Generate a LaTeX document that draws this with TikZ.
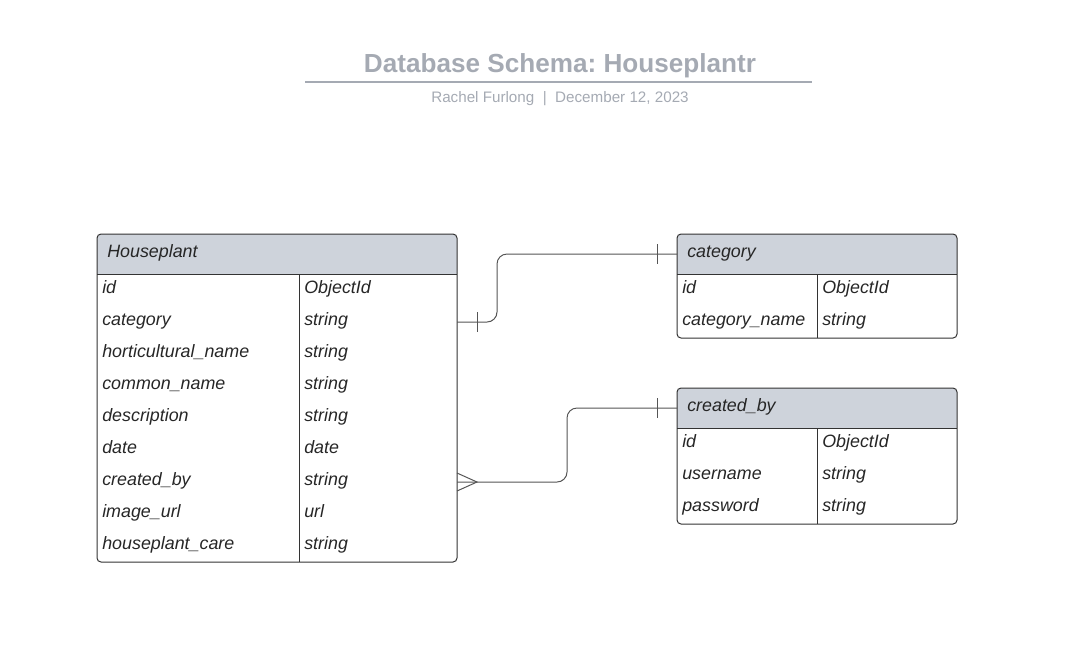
\documentclass[tikz,border=0pt]{standalone}
\usepackage{fontspec}
\setmainfont{Liberation Sans}
\frenchspacing
\usetikzlibrary{calc, positioning}
\definecolor{titlegray}{HTML}{A5AAB3}
\definecolor{headgray}{HTML}{CED3DB}
\definecolor{edgegray}{HTML}{333333}
\definecolor{linkgray}{HTML}{555555}
\tikzset{
    fieldtext/.style={anchor=base west, inner sep=0pt, text=black!85, font=\fontsize{13.4}{15}\selectfont\itshape},
    tableline/.style={draw=edgegray, line width=0.75pt},
    link/.style={draw=linkgray, line width=0.75pt},
}
\newcommand{\dbtable}[7]{
    \pgfmathsetmacro{\ybot}{#5+40+32*#6}
    \fill[headgray, rounded corners=3pt] (#2,#5) rectangle (#4,#5+40);
    \fill[headgray] (#2,#5+20) rectangle (#4,#5+40);
    \node[fieldtext] (#1-title) at (#2+10,#5+23.5) {#7};
    \coordinate (#1-h) at (#2,#5+20);
    \draw[tableline, rounded corners=3pt] (#2,#5) rectangle (#4,\ybot);
    \draw[tableline] (#2,#5+40) -- (#4,#5+40) (#3,#5+40) -- (#3,\ybot);
}
\newcommand{\dbfields}[6]{
    \foreach \fname/\ftype [count=\i] in {#6} {
        \node[fieldtext] (#1-f\i) at (#2+5,#5+40+32*\i-12.5) {\fname};
        \node[fieldtext] (#1-t\i) at (#3+5,#5+40+32*\i-12.5) {\ftype};
        \coordinate (#1-r\i) at (#4,#5+40+32*\i-16);
    }
}

\begin{document}
\begin{tikzpicture}[x=0.75pt, y=-0.75pt]
    \useasboundingbox (0,0) rectangle (1069,669);
    \node[anchor=base, text=titlegray, font=\fontsize{19.6}{22}\selectfont\bfseries] (title) at (560,72.4) {Database Schema: Houseplantr};
    \draw[titlegray, line width=1.5pt] (305,82) -- (812,82);
    \node[anchor=base, text=titlegray, font=\fontsize{11.4}{14}\selectfont] (subtitle) at (560,102.5) {Rachel Furlong~~|~~December 12, 2023};

    \dbtable{hp}{97}{299}{457}{234}{9}{Houseplant}
    \dbfields{hp}{97}{299}{457}{234}{id/ObjectId, category/string, horticultural\_name/string, common\_name/string, description/string, date/date, created\_by/string, image\_url/url, houseplant\_care/string}
    \dbtable{cat}{677}{817}{957}{234}{2}{category}
    \dbfields{cat}{677}{817}{957}{234}{id/ObjectId, category\_name/string}
    \dbtable{cb}{677}{817}{957}{388}{3}{created\_by}
    \dbfields{cb}{677}{817}{957}{388}{id/ObjectId, username/string, password/string}

    \draw[link, rounded corners=7.5pt] (hp-r2) -- ++(40,0) |- (cat-h);
    \draw[link] ($(hp-r2)+(20,-10)$) -- ($(hp-r2)+(20,10)$);
    \draw[link] ($(cat-h)+(-20,-10)$) -- ($(cat-h)+(-20,10)$);
    \draw[link, rounded corners=7.5pt] (hp-r7) -- ++(110,0) |- (cb-h);
    \draw[link] ($(hp-r7)+(0,-9)$) -- ($(hp-r7)+(20,0)$) -- ($(hp-r7)+(0,9)$);
    \draw[link] ($(cb-h)+(-20,-10)$) -- ($(cb-h)+(-20,10)$);
\end{tikzpicture}
\end{document}
